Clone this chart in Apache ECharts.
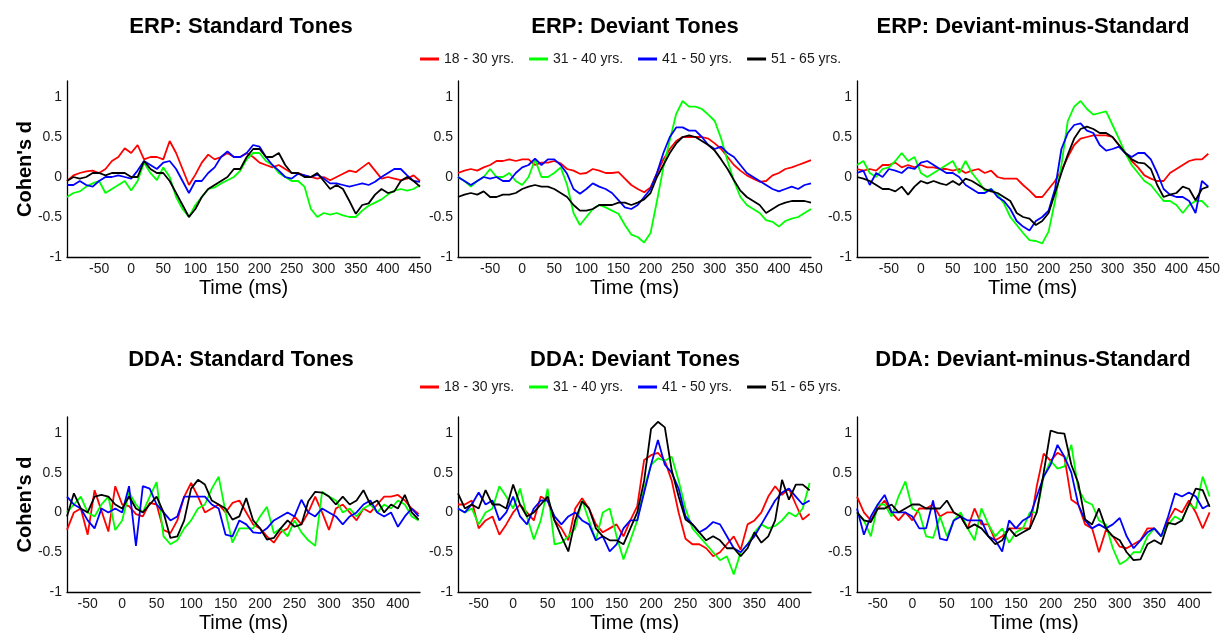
<!DOCTYPE html>
<html>
<head>
<meta charset="utf-8">
<script src="https://cdn.jsdelivr.net/npm/echarts@6.0.0/dist/echarts.min.js"></script>
<style>
  html, body { margin: 0; padding: 0; background: #fff; }
  #main { width: 1223px; height: 634px; }
</style>
</head>
<body>
<div id="main"></div>
<script>
// time axes (ms)
const erpTime = [-100, -90, -80, -70, -60, -50, -40, -30, -20, -10,
  0, 10, 20, 30, 40, 50, 60, 70, 80, 90,
  100, 110, 120, 130, 140, 150, 160, 170, 180, 190,
  200, 210, 220, 230, 240, 250, 260, 270, 280, 290,
  300, 310, 320, 330, 340, 350, 360, 370, 380, 390,
  400, 410, 420, 430, 440, 450];
const ddaTime = [-80, -70, -60, -50, -40, -30, -20, -10, 0, 10,
  20, 30, 40, 50, 60, 70, 80, 90, 100, 110,
  120, 130, 140, 150, 160, 170, 180, 190, 200, 210,
  220, 230, 240, 250, 260, 270, 280, 290, 300, 310,
  320, 330, 340, 350, 360, 370, 380, 390, 400, 410,
  420, 430];

const groupNames = ['18 - 30 yrs.', '31 - 40 yrs.', '41 - 50 yrs.', '51 - 65 yrs.'];
const erpTicks = [-50, 0, 50, 100, 150, 200, 250, 300, 350, 400, 450];
const ddaTicks = [-50, 0, 50, 100, 150, 200, 250, 300, 350, 400];
const yTicks = [-1, -0.5, 0, 0.5, 1];
const panelTitles = ['ERP: Standard Tones', 'ERP: Deviant Tones', 'ERP: Deviant-minus-Standard',
  'DDA: Standard Tones', 'DDA: Deviant Tones', 'DDA: Deviant-minus-Standard'];

// ERP standard tones
const erpStd18 = [-0.05, 0.02, 0.05, 0.07, 0.08, 0.05, 0.1, 0.2, 0.25, 0.36,
  0.3, 0.4, 0.22, 0.25, 0.25, 0.22, 0.45, 0.3, 0.1, -0.1,
  0.03, 0.18, 0.28, 0.22, 0.25, 0.3, 0.25, 0.25, 0.3, 0.25,
  0.18, 0.15, 0.12, 0.15, 0.1, 0.05, 0.05, 0.02, 0.0, -0.02,
  0.0, -0.04, 0.0, 0.04, 0.08, 0.06, 0.12, 0.18, 0.08, -0.02,
  0.0, -0.02, -0.04, -0.02, 0.02, -0.05];
const erpStd31 = [-0.25, -0.2, -0.18, -0.12, -0.08, -0.05, -0.2, -0.15, -0.1, -0.05,
  -0.17, -0.05, 0.18, 0.05, -0.04, 0.12, 0.0, -0.25, -0.4, -0.5,
  -0.35, -0.25, -0.15, -0.13, -0.08, -0.04, 0.0, 0.08, 0.22, 0.3,
  0.3, 0.2, 0.15, 0.05, 0.0, -0.05, -0.05, -0.12, -0.4, -0.5,
  -0.45, -0.47, -0.45, -0.48, -0.5, -0.5, -0.42, -0.36, -0.32, -0.28,
  -0.22, -0.17, -0.15, -0.17, -0.15, -0.1];
const erpStd41 = [-0.1, -0.1, -0.05, -0.1, -0.12, -0.05, 0.0, 0.0, 0.02, 0.0,
  -0.02, 0.08, 0.2, 0.15, 0.1, 0.18, 0.2, 0.1, -0.05, -0.2,
  -0.05, -0.05, 0.05, 0.12, 0.25, 0.32, 0.25, 0.25, 0.3, 0.4,
  0.38, 0.25, 0.15, 0.08, 0.0, -0.02, 0.04, 0.02, 0.0, 0.03,
  -0.02, -0.08, -0.08, -0.1, -0.12, -0.1, -0.08, -0.1, -0.06, 0.0,
  0.05, 0.1, 0.1, 0.02, -0.05, -0.06];
const erpStd51 = [-0.05, 0.0, -0.02, 0.0, 0.05, 0.05, 0.02, 0.05, 0.05, 0.05,
  0.0, 0.0, 0.2, 0.1, 0.05, 0.05, -0.05, -0.2, -0.35, -0.5,
  -0.4, -0.25, -0.15, -0.1, -0.05, 0.0, 0.1, 0.1, 0.25, 0.35,
  0.35, 0.25, 0.25, 0.3, 0.15, 0.05, 0.05, 0.0, 0.0, 0.05,
  -0.05, -0.15, -0.1, -0.15, -0.3, -0.46, -0.35, -0.33, -0.22, -0.15,
  -0.2, -0.18, -0.05, 0.0, -0.05, -0.12];

// ERP deviant tones
const erpDev18 = [0.05, 0.08, 0.1, 0.08, 0.12, 0.15, 0.2, 0.2, 0.22, 0.2,
  0.22, 0.22, 0.15, 0.18, 0.18, 0.2, 0.17, 0.1, 0.08, 0.04,
  0.05, 0.1, 0.08, 0.05, 0.05, 0.06, -0.02, -0.1, -0.15, -0.19,
  -0.13, 0.05, 0.22, 0.35, 0.45, 0.5, 0.5, 0.5, 0.5, 0.48,
  0.42, 0.35, 0.25, 0.15, 0.08, 0.02, -0.02, -0.06, -0.05, 0.02,
  0.05, 0.1, 0.12, 0.15, 0.18, 0.21];
const erpDev31 = [0.0, -0.05, -0.12, -0.05, 0.0, 0.1, 0.0, 0.0, 0.05, -0.05,
  -0.1, 0.0, 0.22, 0.0, 0.0, 0.05, 0.12, -0.1, -0.45, -0.6,
  -0.5, -0.4, -0.35, -0.38, -0.42, -0.46, -0.6, -0.72, -0.75, -0.82,
  -0.7, -0.3, 0.12, 0.46, 0.79, 0.95, 0.88, 0.88, 0.85, 0.78,
  0.7, 0.48, 0.2, -0.05, -0.25, -0.35, -0.4, -0.45, -0.54, -0.56,
  -0.62, -0.55, -0.52, -0.5, -0.45, -0.4];
const erpDev41 = [0.0, -0.05, -0.1, -0.05, 0.0, -0.02, 0.0, -0.05, -0.05, 0.05,
  0.12, 0.15, 0.23, 0.15, 0.22, 0.22, 0.15, 0.04, -0.15, -0.21,
  -0.15, -0.08, -0.12, -0.15, -0.2, -0.29, -0.38, -0.4, -0.35, -0.25,
  -0.15, 0.05, 0.3, 0.5, 0.62, 0.62, 0.58, 0.58, 0.5, 0.4,
  0.35, 0.38, 0.3, 0.25, 0.15, 0.05, 0.0, -0.05, -0.1, -0.15,
  -0.18, -0.15, -0.12, -0.15, -0.1, -0.08];
const erpDev51 = [-0.25, -0.22, -0.2, -0.22, -0.18, -0.25, -0.25, -0.22, -0.22, -0.2,
  -0.15, -0.12, -0.1, -0.12, -0.12, -0.15, -0.2, -0.25, -0.35, -0.42,
  -0.42, -0.4, -0.35, -0.35, -0.35, -0.32, -0.32, -0.35, -0.32, -0.28,
  -0.2, 0.0, 0.15, 0.3, 0.42, 0.5, 0.52, 0.5, 0.45, 0.4,
  0.33, 0.22, 0.1, -0.04, -0.17, -0.25, -0.3, -0.35, -0.45, -0.4,
  -0.35, -0.32, -0.3, -0.3, -0.3, -0.32];

// ERP deviant-minus-standard
const erpDiff18 = [0.1, 0.08, 0.1, 0.08, 0.15, 0.15, 0.18, 0.12, 0.15, 0.12,
  0.15, 0.12, 0.12, 0.1, 0.1, 0.08, 0.1, 0.05, 0.08, 0.1,
  0.05, 0.08, 0.0, -0.02, -0.02, -0.02, -0.1, -0.17, -0.25, -0.25,
  -0.15, -0.05, 0.08, 0.25, 0.4, 0.48, 0.5, 0.52, 0.52, 0.52,
  0.5, 0.4, 0.3, 0.2, 0.12, 0.02, -0.02, -0.05, -0.05, 0.05,
  0.1, 0.15, 0.2, 0.22, 0.22, 0.29];
const erpDiff31 = [0.15, 0.2, 0.05, 0.0, 0.1, 0.12, 0.2, 0.3, 0.2, 0.25,
  0.05, 0.0, 0.05, 0.1, 0.15, 0.2, 0.05, 0.2, 0.05, -0.05,
  -0.17, -0.15, -0.22, -0.33, -0.5, -0.6, -0.7, -0.79, -0.8, -0.83,
  -0.68, -0.3, 0.15, 0.7, 0.88, 0.95, 0.85, 0.78, 0.8, 0.82,
  0.65, 0.48, 0.3, 0.15, 0.05, -0.05, -0.1, -0.2, -0.3, -0.3,
  -0.35, -0.45, -0.35, -0.3, -0.3, -0.38];
const erpDiff41 = [0.05, 0.08, -0.1, 0.05, 0.0, 0.1, 0.08, 0.05, 0.12, 0.1,
  0.18, 0.2, 0.15, 0.1, 0.05, 0.05, 0.0, -0.1, -0.15, -0.2,
  -0.2, -0.15, -0.25, -0.3, -0.4, -0.55, -0.62, -0.67, -0.55, -0.5,
  -0.42, -0.15, 0.35, 0.55, 0.65, 0.67, 0.58, 0.55, 0.4, 0.33,
  0.35, 0.38, 0.3, 0.25, 0.3, 0.3, 0.22, 0.05, -0.15, -0.22,
  -0.25, -0.25, -0.3, -0.45, -0.05, -0.12];
const erpDiff51 = [0.0, -0.02, -0.05, -0.1, -0.15, -0.15, -0.18, -0.12, -0.22, -0.12,
  -0.05, -0.08, -0.05, -0.08, -0.1, -0.05, -0.1, -0.02, -0.05, -0.1,
  -0.15, -0.18, -0.2, -0.25, -0.3, -0.45, -0.5, -0.52, -0.6, -0.55,
  -0.45, -0.2, 0.05, 0.28, 0.48, 0.6, 0.63, 0.6, 0.55, 0.55,
  0.5, 0.4, 0.3, 0.22, 0.18, 0.17, 0.1, -0.1, -0.25, -0.22,
  -0.2, -0.12, -0.15, -0.29, -0.15, -0.12];

// DDA standard tones
const ddaStd18 = [-0.22, 0.0, 0.05, -0.28, 0.28, 0.02, -0.24, 0.33, 0.1, 0.08,
  -0.02, -0.05, 0.12, 0.1, -0.22, -0.26, -0.1, 0.2, 0.37, 0.2,
  0.0, 0.05, 0.1, 0.0, 0.12, 0.15, 0.0, -0.15, -0.2, -0.3,
  -0.38, -0.25, -0.2, -0.05, -0.15, 0.0, 0.2, 0.0, -0.22, 0.05,
  0.1, 0.0, -0.1, 0.05, 0.0, 0.1, 0.2, 0.2, 0.22, 0.15,
  0.05, -0.02];
const ddaStd31 = [0.0, 0.1, 0.2, 0.0, -0.05, 0.1, 0.2, -0.22, -0.1, 0.25,
  0.1, 0.0, 0.2, 0.38, -0.3, -0.4, -0.35, -0.2, -0.1, 0.05,
  0.1, 0.3, 0.45, 0.0, -0.38, -0.2, -0.2, -0.2, -0.05, 0.07,
  -0.26, -0.2, -0.3, -0.1, -0.25, -0.35, -0.42, 0.26, 0.2, 0.15,
  0.0, 0.05, -0.05, 0.05, 0.1, 0.0, 0.1, 0.05, 0.15, 0.1,
  -0.05, -0.1];
const ddaStd41 = [0.2, 0.1, 0.05, -0.1, -0.2, 0.05, 0.0, 0.05, 0.0, 0.33,
  -0.42, 0.33, 0.3, 0.1, 0.0, -0.1, -0.05, 0.2, 0.2, 0.2,
  0.2, 0.1, 0.05, -0.28, -0.3, -0.1, -0.15, -0.25, -0.26, -0.2,
  -0.1, -0.05, 0.0, -0.05, 0.16, 0.0, -0.05, 0.05, 0.0, -0.05,
  -0.15, -0.05, 0.0, 0.1, 0.15, 0.0, -0.05, 0.0, -0.18, -0.05,
  0.05, -0.05];
const ddaStd51 = [-0.05, 0.24, 0.05, 0.0, 0.2, 0.22, 0.2, 0.1, 0.05, 0.2,
  0.05, 0.0, 0.1, 0.2, 0.0, -0.32, -0.3, -0.1, 0.3, 0.41,
  0.35, 0.15, 0.1, 0.05, -0.09, -0.05, 0.18, -0.1, -0.2, -0.34,
  -0.32, -0.2, -0.1, -0.18, -0.15, 0.14, 0.26, 0.25, 0.2, 0.1,
  0.2, 0.1, 0.15, 0.28, 0.1, 0.15, 0.0, 0.1, 0.05, 0.22,
  0.0, -0.09];

// DDA deviant tones
const ddaDev18 = [0.1, 0.1, 0.15, -0.2, -0.1, -0.05, -0.28, -0.15, 0.0, 0.1,
  0.0, -0.1, 0.2, 0.15, -0.1, -0.2, -0.35, 0.05, 0.18, 0.05,
  -0.15, -0.25, -0.2, -0.15, -0.3, -0.1, 0.08, 0.66, 0.72, 0.75,
  0.65, 0.4, 0.0, -0.33, -0.4, -0.4, -0.45, -0.55, -0.5, -0.4,
  -0.3, -0.47, -0.15, -0.1, 0.0, 0.2, 0.33, 0.22, 0.3, 0.1,
  -0.09, -0.02];
const ddaDev31 = [0.05, 0.0, 0.05, -0.15, 0.0, 0.05, 0.33, 0.2, 0.05, 0.3,
  -0.05, -0.34, -0.1, 0.3, -0.4, -0.38, -0.3, -0.2, 0.15, -0.1,
  -0.35, 0.0, 0.05, -0.3, -0.59, -0.35, -0.1, 0.3, 0.6, 0.68,
  0.65, 0.7, 0.4, 0.05, -0.2, -0.3, -0.4, -0.5, -0.6, -0.55,
  -0.78, -0.5, -0.4, -0.25, -0.15, -0.2, -0.17, -0.1, 0.0, -0.05,
  0.05, 0.37];
const ddaDev41 = [0.05, 0.0, 0.1, 0.25, 0.1, 0.15, -0.1, 0.0, 0.2, -0.05,
  -0.15, 0.05, 0.15, 0.15, -0.05, -0.15, -0.05, 0.0, -0.1, -0.15,
  -0.35, -0.3, -0.49, -0.4, -0.2, -0.1, -0.1, 0.25, 0.6, 0.91,
  0.6, 0.5, 0.3, -0.05, -0.15, -0.25, -0.2, -0.12, -0.15, -0.3,
  -0.45, -0.5, -0.4, -0.3, -0.15, 0.0, 0.15, 0.25, 0.3, 0.2,
  0.1, 0.15];
const ddaDev51 = [0.24, 0.05, 0.1, 0.05, 0.28, 0.1, 0.1, 0.05, 0.35, 0.1,
  -0.05, 0.0, 0.1, 0.2, -0.1, -0.3, -0.49, -0.1, 0.14, 0.05,
  -0.2, -0.3, -0.35, -0.35, -0.4, -0.2, 0.0, 0.4, 1.05, 1.14,
  1.07, 0.53, 0.2, -0.09, -0.15, -0.25, -0.35, -0.3, -0.35, -0.45,
  -0.45, -0.55, -0.45, -0.25, -0.38, -0.3, -0.1, 0.41, 0.16, 0.35,
  0.35, 0.28];

// DDA deviant-minus-standard
const ddaDiff18 = [0.2, 0.0, -0.1, 0.05, 0.15, 0.0, -0.1, 0.0, -0.1, 0.05,
  0.05, 0.1, -0.05, 0.0, 0.0, -0.05, -0.2, 0.05, -0.15, -0.15,
  -0.35, -0.3, -0.2, -0.2, -0.2, -0.2, 0.33, 0.74, 0.65, 0.75,
  0.7, 0.16, 0.1, -0.15, -0.2, -0.5, -0.22, -0.3, -0.43, -0.45,
  -0.4, -0.35, -0.2, -0.2, -0.3, -0.1, 0.05, 0.0, 0.15, 0.0,
  -0.2, 0.0];
const ddaDiff31 = [0.0, -0.1, -0.3, 0.1, 0.1, -0.05, 0.2, 0.39, 0.05, 0.0,
  -0.3, -0.32, -0.05, -0.3, -0.1, 0.0, -0.2, -0.35, 0.05, -0.15,
  -0.3, -0.2, -0.38, -0.25, -0.2, 0.0, 0.0, 0.45, 0.65, 0.55,
  0.58, 0.85, 0.3, 0.14, 0.1, -0.1, -0.15, -0.45, -0.65, -0.6,
  -0.5, -0.5, -0.3, -0.2, -0.3, -0.15, -0.05, -0.1, 0.1, 0.05,
  0.45, 0.2];
const ddaDiff41 = [0.05, -0.28, -0.05, 0.1, 0.22, 0.0, 0.0, 0.0, -0.05, -0.2,
  -0.2, 0.15, -0.33, -0.35, -0.1, -0.05, -0.1, -0.1, -0.1, -0.3,
  -0.35, -0.49, -0.1, -0.2, -0.1, -0.05, 0.2, 0.45, 0.6, 0.85,
  0.7, 0.5, 0.1, -0.1, -0.2, -0.15, -0.2, -0.15, -0.07, -0.3,
  -0.45, -0.35, -0.25, -0.2, -0.3, -0.05, 0.24, 0.2, 0.25, 0.2,
  0.05, 0.1];
const ddaDiff51 = [0.0, -0.1, -0.12, 0.05, 0.05, 0.1, 0.0, 0.05, 0.1, 0.1,
  0.05, 0.05, 0.05, 0.15, 0.0, -0.05, -0.2, -0.15, -0.2, -0.3,
  -0.4, -0.35, -0.2, -0.3, -0.25, -0.2, 0.0, 0.5, 1.03, 1.0,
  0.99, 0.6, 0.37, -0.09, -0.15, 0.05, -0.2, -0.3, -0.35, -0.5,
  -0.6, -0.59, -0.4, -0.35, -0.4, -0.13, -0.15, -0.1, 0.1, 0.3,
  0.28, 0.07];

var chart = echarts.init(document.getElementById('main'));

const colorList = ['#ff0000', '#00ff00', '#0000ff', '#000000'];
const fontFamily = 'Helvetica, "Liberation Sans", Arial, sans-serif';

const panels = [
  { time: erpTime, ticks: erpTicks, min: -100, max: 450, lines: [erpStd18, erpStd31, erpStd41, erpStd51] },
  { time: erpTime, ticks: erpTicks, min: -100, max: 450, lines: [erpDev18, erpDev31, erpDev41, erpDev51] },
  { time: erpTime, ticks: erpTicks, min: -100, max: 450, lines: [erpDiff18, erpDiff31, erpDiff41, erpDiff51] },
  { time: ddaTime, ticks: ddaTicks, min: -80, max: 432, lines: [ddaStd18, ddaStd31, ddaStd41, ddaStd51] },
  { time: ddaTime, ticks: ddaTicks, min: -80, max: 432, lines: [ddaDev18, ddaDev31, ddaDev41, ddaDev51] },
  { time: ddaTime, ticks: ddaTicks, min: -80, max: 432, lines: [ddaDiff18, ddaDiff31, ddaDiff41, ddaDiff51] }
];

const colLeft = [67, 458, 857];
const colWidth = [353, 353, 354];
const rowTop = [81, 417];
const titleCenter = [241, 635, 1033];
const titleTop = [16, 349];

const grids = [], xAxes = [], yAxes = [], titles = [], series = [];

panels.forEach(function (p, i) {
  const row = Math.floor(i / 3), col = i % 3;
  grids.push({ left: colLeft[col], top: rowTop[row], width: colWidth[col], height: 176 });
  titles.push({
    text: panelTitles[i],
    left: titleCenter[col],
    top: titleTop[row],
    textAlign: 'center',
    padding: 0,
    textStyle: { fontSize: 22, fontWeight: 'bold', color: '#000', fontFamily: fontFamily }
  });
  xAxes.push({
    type: 'value',
    gridIndex: i,
    min: p.min,
    max: p.max,
    name: 'Time (ms)',
    nameLocation: 'middle',
    nameGap: 21,
    nameTextStyle: { fontSize: 20, color: '#000', fontFamily: fontFamily },
    axisLine: { onZero: false, lineStyle: { color: '#000', width: 1.3 } },
    axisTick: { show: false },
    splitLine: { show: false },
    axisLabel: {
      customValues: p.ticks,
      fontSize: 14,
      color: '#1a1a1a',
      margin: 5,
      fontFamily: fontFamily
    }
  });
  yAxes.push({
    type: 'value',
    gridIndex: i,
    min: -1,
    max: 1.2,
    name: col === 0 ? "Cohen's d" : '',
    nameLocation: 'middle',
    nameGap: 32,
    nameMoveOverlap: false,
    nameTextStyle: { fontSize: 20, fontWeight: 'bold', color: '#000', fontFamily: fontFamily },
    axisLine: { show: true, onZero: false, lineStyle: { color: '#000', width: 1.3 } },
    axisTick: { show: false },
    splitLine: { show: false },
    axisLabel: {
      customValues: yTicks,
      fontSize: 14,
      color: '#1a1a1a',
      margin: 5,
      fontFamily: fontFamily
    }
  });
  p.lines.forEach(function (vals, j) {
    series.push({
      name: groupNames[j],
      type: 'line',
      xAxisIndex: i,
      yAxisIndex: i,
      showSymbol: false,
      symbol: 'none',
      lineStyle: { color: colorList[j], width: 1.8 },
      itemStyle: { color: colorList[j] },
      data: p.time.map(function (t, k) { return [t, vals[k]]; })
    });
  });
});

function makeLegend(top) {
  return {
    data: groupNames,
    left: 420,
    top: top,
    padding: 0,
    icon: 'rect',
    itemWidth: 19,
    itemHeight: 3,
    itemGap: 15,
    textStyle: { fontSize: 14, color: '#1a1a1a', fontFamily: fontFamily }
  };
}

option = {
  backgroundColor: '#fff',
  animation: false,
  color: colorList,
  title: titles,
  legend: [makeLegend(52), makeLegend(380)],
  grid: grids,
  xAxis: xAxes,
  yAxis: yAxes,
  series: series
};

chart.setOption(option);

window.onresize = function () {
  chart.resize();
};
</script>
</body>
</html>
